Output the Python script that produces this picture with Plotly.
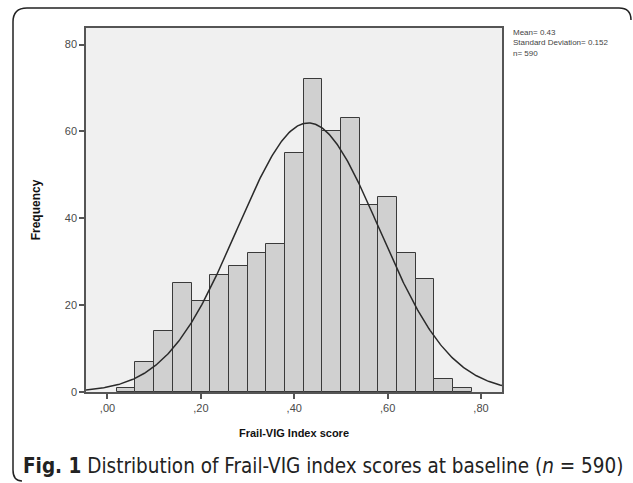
import numpy as np
import plotly.graph_objects as go

# ---- data ----
bin_centers = [0.04, 0.08, 0.12, 0.16, 0.20, 0.24, 0.28, 0.32, 0.36, 0.40,
               0.44, 0.48, 0.52, 0.56, 0.60, 0.64, 0.68, 0.72, 0.76]
counts = [1, 7, 14, 25, 21, 27, 29, 32, 34, 55, 72, 60, 63, 43, 45, 32, 26, 3, 1]
bin_width = 0.04
mean_val = 0.43
sd_val = 0.152
n_total = 590
x_tickvals = [0.0, 0.2, 0.4, 0.6, 0.8]
x_ticktext = [",00", ",20", ",40", ",60", ",80"]
y_tickvals = [0, 20, 40, 60, 80]

x_range = [-0.046, 0.845]
y_range = [0, 83.8]

# normal curve from the stated statistics
xc = np.linspace(x_range[0], x_range[1], 400)
yc = n_total * bin_width / (sd_val * np.sqrt(2 * np.pi)) * np.exp(-0.5 * ((xc - mean_val) / sd_val) ** 2)

fig = go.Figure()
fig.add_trace(go.Bar(
    x=bin_centers, y=counts, width=bin_width,
    marker=dict(color="#d0d0d0", line=dict(color="#3a3a3a", width=1)),
    showlegend=False, hoverinfo="x+y",
))
fig.add_trace(go.Scatter(
    x=xc, y=yc, mode="lines", line=dict(color="#2a2a2a", width=1.5),
    showlegend=False, hoverinfo="skip",
))

axis_font = dict(family="Liberation Sans, Arial, sans-serif", size=11, color="#4a4a4a")
fig.update_layout(
    width=633, height=483,
    margin=dict(l=86, r=131, t=28, b=91),
    paper_bgcolor="white", plot_bgcolor="#f0f0f0",
    bargap=0,
    xaxis=dict(
        range=x_range, tickvals=x_tickvals, ticktext=x_ticktext,
        ticks="outside", ticklen=5, tickcolor="#555555", tickwidth=1.5,
        showline=True, linecolor="#555555", linewidth=1.5, mirror=True,
        showgrid=False, zeroline=False, tickfont=axis_font,
        title=dict(text="<b>Frail-VIG Index score</b>",
                   font=dict(family="Liberation Sans, Arial, sans-serif", size=11, color="#111111"),
                   standoff=16),
    ),
    yaxis=dict(
        range=y_range, tickvals=y_tickvals,
        ticks="outside", ticklen=5, tickcolor="#555555", tickwidth=1.5,
        showline=True, linecolor="#555555", linewidth=1.5, mirror=True,
        showgrid=False, zeroline=False, tickfont=axis_font,
        title=dict(text="<b>Frequency</b>",
                   font=dict(family="Liberation Sans, Arial, sans-serif", size=12, color="#111111"),
                   standoff=22),
    ),
    annotations=[
        dict(xref="paper", yref="paper", x=1.0, y=1.0, xshift=9, yshift=2,
             xanchor="left", yanchor="top", align="left", showarrow=False,
             text=f"Mean= {mean_val}<br>Standard Deviation= {sd_val}<br>n= {n_total}",
             font=dict(family="Liberation Sans, Arial, sans-serif", size=8, color="#444444")),
    ],
)

# outer bracket frame and caption positioned in paper fractions from pixel estimates
L, R, T, B = 86.0, 502.0, 28.0, 392.0
pw, ph = R - L, B - T
def px(x):
    return (x - L) / pw
def py(y):
    return (B - y) / ph
frame = (f"M {px(631)},{py(20)} Q {px(631)},{py(8)} {px(619)},{py(8)} "
         f"L {px(27)},{py(8)} Q {px(13)},{py(8)} {px(13)},{py(22)} "
         f"L {px(13)},{py(470)} Q {px(13)},{py(481)} {px(22)},{py(481)}")
fig.add_shape(type="path", xref="paper", yref="paper", path=frame,
              line=dict(color="#222222", width=1.5), layer="above")
fig.add_annotation(
    xref="paper", yref="paper", x=px(21), y=py(466),
    xanchor="left", yanchor="middle", align="left", showarrow=False,
    text="<b>Fig. 1</b> Distribution of Frail-VIG index scores at baseline (<i>n</i> = 590)",
    font=dict(family="DejaVu Sans Condensed, Liberation Sans Narrow, sans-serif",
              size=20.5, color="#222222"))

fig.write_html("out.html", config={"displayModeBar": False},
               post_script="document.body.style.margin='0px';document.body.style.padding='0px';")
